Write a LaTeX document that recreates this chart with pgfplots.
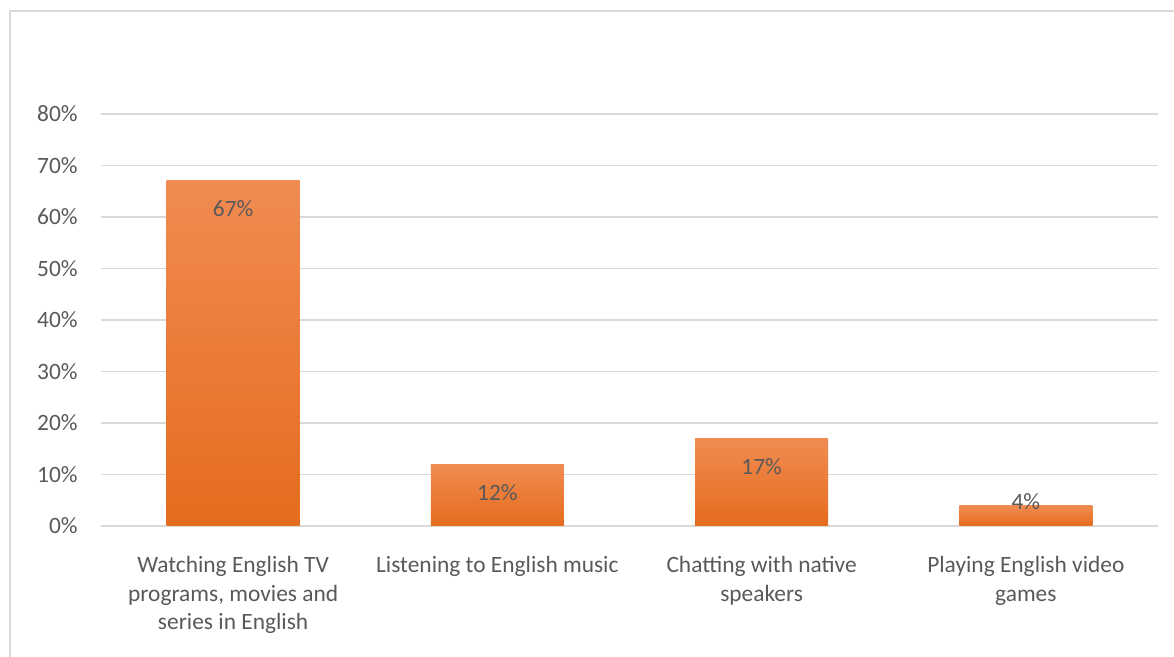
\documentclass[border=0pt]{standalone}
\usepackage{pgfplots}
\pgfplotsset{compat=1.18}
\usepackage{fontspec}
\setmainfont{Carlito}
\definecolor{txt}{HTML}{595959}
\definecolor{grd}{HTML}{D9D9D9}
\definecolor{bartop}{HTML}{F18B52}
\definecolor{barmid}{HTML}{F07F2D}
\definecolor{barbot}{HTML}{E46C1D}
\begin{document}
\begin{tikzpicture}
\useasboundingbox (0,0) rectangle (587pt,328.5pt);
\draw[grd, line width=1pt] (5pt,-5pt) -- (5pt,323pt) -- (600pt,323pt);
\begin{axis}[
  at={(50.5pt,65.5pt)}, anchor=south west,
  scale only axis, width=528.5pt, height=206pt,
  xmin=-0.5, xmax=3.5, ymin=0, ymax=80,
  ytick={0,10,...,80},
  xtick={0,1,2,3},
  xticklabels={{Watching English TV\\programs, movies and\\series in English},{Listening to English music},{Chatting with native\\speakers},{Playing English video\\games}},
  font=\fontsize{11.7}{14.25}\selectfont,
  /pgf/number format/assume math mode=true,
  yticklabel={\pgfmathprintnumber{\tick}\%},
  ymajorgrids, grid style={grd, line width=0.75pt},
  axis x line*=bottom,
  y axis line style={draw=none},
  x axis line style={grd, line width=1.1pt, -},
  major tick length=0pt,
  tick label style={txt},
  yticklabel style={inner sep=0pt, xshift=-11.5pt},
  xticklabel style={align=center, inner sep=0pt, yshift=-15pt},
  clip=false,
  mybar/.style={ybar, bar width=0.504, bar shift=0pt, draw=none,
    top color=bartop, middle color=barmid, bottom color=barbot,
    nodes near coords={\pgfmathprintnumber{\pgfplotspointmeta}\%},
    every node near coord/.append style={txt, anchor=center, yshift=#1},
    point meta=y},
]
\addplot[mybar=-14pt] table {
x y
0 67
};
\addplot[mybar=-14pt] table {
x y
1 12
};
\addplot[mybar=-14pt] table {
x y
2 17
};
\addplot[mybar=1.7pt] table {
x y
3 4
};
\end{axis}
\end{tikzpicture}
\end{document}
